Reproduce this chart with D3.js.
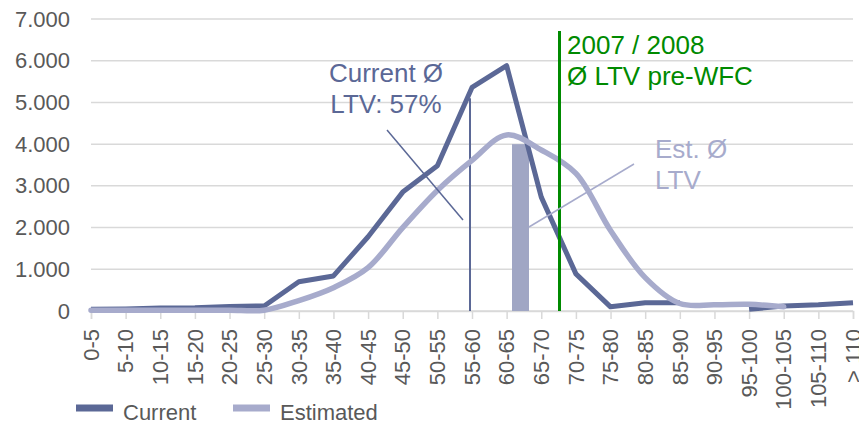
<!DOCTYPE html>
<html>
<head>
<meta charset="utf-8">
<script src="https://cdn.jsdelivr.net/npm/d3@7"></script>
<style>
  body { margin: 0; background: #ffffff; }
  svg { display: block; font-family: "Liberation Sans", Arial, sans-serif; }
</style>
</head>
<body>
<div id="chart"></div>
<script>
// data
const categories = ["0-5", "5-10", "10-15", "15-20", "20-25", "25-30", "30-35", "35-40",
  "40-45", "45-50", "50-55", "55-60", "60-65", "65-70", "70-75", "75-80", "80-85",
  "85-90", "90-95", "95-100", "100-105", "105-110", "> 110"];
const current = [40, 50, 70, 80, 110, 120, 700, 840, 1780, 2850, 3480, 5360, 5880,
  2730, 890, 100, 200, 200, null, 40, 120, 150, 200];
const estimated = [20, 20, 20, 20, 20, 20, 250, 560, 1040, 2000, 2890, 3610, 4220,
  3860, 3300, 1930, 800, 180, 150, 160, 100, null, null];
const yTicks = [0, 1000, 2000, 3000, 4000, 5000, 6000, 7000];

// config
const width = 859;
const height = 421;
const margin = { top: 19, bottom: 111, left: 91, right: 6 };

const colCurrent = "#5b6896";
const colEstimated = "#a7abcc";
const colGreen = "#008a00";
const colText = "#595959";

const svg = d3.select("#chart")
  .append("svg")
  .attr("width", width)
  .attr("height", height);

// scales
const x = d3.scalePoint()
  .domain(categories)
  .range([margin.left, width - margin.right]);

const y = d3.scaleLinear()
  .domain([0, 7000])
  .range([height - margin.bottom + 1, margin.top]);

const fmt = d => d3.format(",")(d).replace(/,/g, ".");

// gridlines
svg.append("g")
  .selectAll("line")
  .data(yTicks)
  .join("line")
  .attr("x1", margin.left)
  .attr("x2", width - margin.right)
  .attr("y1", d => y(d))
  .attr("y2", d => y(d))
  .attr("stroke", "#d9d9d9")
  .attr("stroke-width", 1.5);

// y axis
const yAxis = d3.axisLeft(y).tickValues(yTicks).tickSize(0).tickPadding(21).tickFormat(fmt);
svg.append("g")
  .attr("transform", `translate(${margin.left}, 0)`)
  .call(yAxis)
  .call(g => g.select(".domain").remove())
  .call(g => g.selectAll(".tick text")
    .attr("fill", colText)
    .style("font-size", "22px")
    .style("font-family", "'Liberation Sans', Arial, sans-serif"));

// x axis
const xAxis = d3.axisBottom(x).tickSize(8).tickFormat("");
svg.append("g")
  .attr("transform", `translate(0, ${y(0)})`)
  .call(xAxis)
  .call(g => g.select(".domain").attr("stroke", "#d9d9d9").attr("stroke-width", 1.5))
  .call(g => g.selectAll(".tick line").attr("stroke", "#d9d9d9").attr("stroke-width", 1.5));

svg.append("g")
  .selectAll("text")
  .data(categories)
  .join("text")
  .attr("transform", d => `translate(${x(d)}, ${y(0) + 18}) rotate(-90)`)
  .attr("text-anchor", "end")
  .attr("dy", "0.35em")
  .attr("fill", colText)
  .style("font-size", "22px")
  .text(d => d);

// estimated average bar
svg.append("rect")
  .attr("x", 512)
  .attr("width", 17)
  .attr("y", y(4000))
  .attr("height", y(0) - y(4000))
  .attr("fill", "#a0a6c4");

// current average line
svg.append("line")
  .attr("x1", 470).attr("x2", 470)
  .attr("y1", y(5100)).attr("y2", y(0))
  .attr("stroke", colCurrent)
  .attr("stroke-width", 2);

// series lines
const lineCurrent = d3.line()
  .defined(d => d != null)
  .x((d, i) => x(categories[i]))
  .y(d => y(d));

const lineEstimated = d3.line()
  .defined(d => d != null)
  .x((d, i) => x(categories[i]))
  .y(d => y(d))
  .curve(d3.curveCatmullRom.alpha(0.5));

svg.append("path")
  .attr("d", lineCurrent(current))
  .attr("fill", "none")
  .attr("stroke", colCurrent)
  .attr("stroke-width", 5)
  .attr("stroke-linejoin", "round");

svg.append("path")
  .attr("d", lineEstimated(estimated))
  .attr("fill", "none")
  .attr("stroke", colEstimated)
  .attr("stroke-width", 5.5)
  .attr("stroke-linecap", "round")
  .attr("stroke-linejoin", "round");

// pre-WFC line
svg.append("line")
  .attr("x1", 559.5).attr("x2", 559.5)
  .attr("y1", 31).attr("y2", y(0))
  .attr("stroke", colGreen)
  .attr("stroke-width", 3);

// annotations
svg.append("line")
  .attr("x1", 387).attr("y1", 130)
  .attr("x2", 463).attr("y2", 220)
  .attr("stroke", colCurrent)
  .attr("stroke-width", 1.5);

svg.append("line")
  .attr("x1", 529).attr("y1", 227)
  .attr("x2", 634).attr("y2", 164)
  .attr("stroke", colEstimated)
  .attr("stroke-width", 1.5);

const notes = [
  { lines: ["Current Ø", "LTV: 57%"], x: 386, y: 82, anchor: "middle", color: colCurrent },
  { lines: ["Est. Ø", "LTV"], x: 655, y: 158, anchor: "start", color: colEstimated },
  { lines: ["2007 / 2008", "Ø LTV pre-WFC"], x: 567, y: 54, anchor: "start", color: colGreen }
];

notes.forEach(n => {
  const t = svg.append("text")
    .attr("x", n.x)
    .attr("y", n.y)
    .attr("text-anchor", n.anchor)
    .attr("fill", n.color)
    .style("font-size", "26px");
  n.lines.forEach((l, i) => {
    t.append("tspan")
      .attr("x", n.x)
      .attr("dy", i === 0 ? 0 : 31)
      .text(l);
  });
});

// legend
const legend = [
  { name: "Current", color: colCurrent, x: 76 },
  { name: "Estimated", color: colEstimated, x: 233 }
];

const lg = svg.append("g")
  .selectAll("g")
  .data(legend)
  .join("g")
  .attr("transform", d => `translate(${d.x}, 408)`);

lg.append("rect")
  .attr("x", 0).attr("y", -3.5)
  .attr("width", 37).attr("height", 7)
  .attr("fill", d => d.color);

lg.append("text")
  .attr("x", 47)
  .attr("y", 12)
  .attr("fill", colText)
  .style("font-size", "22px")
  .text(d => d.name);
</script>
</body>
</html>
